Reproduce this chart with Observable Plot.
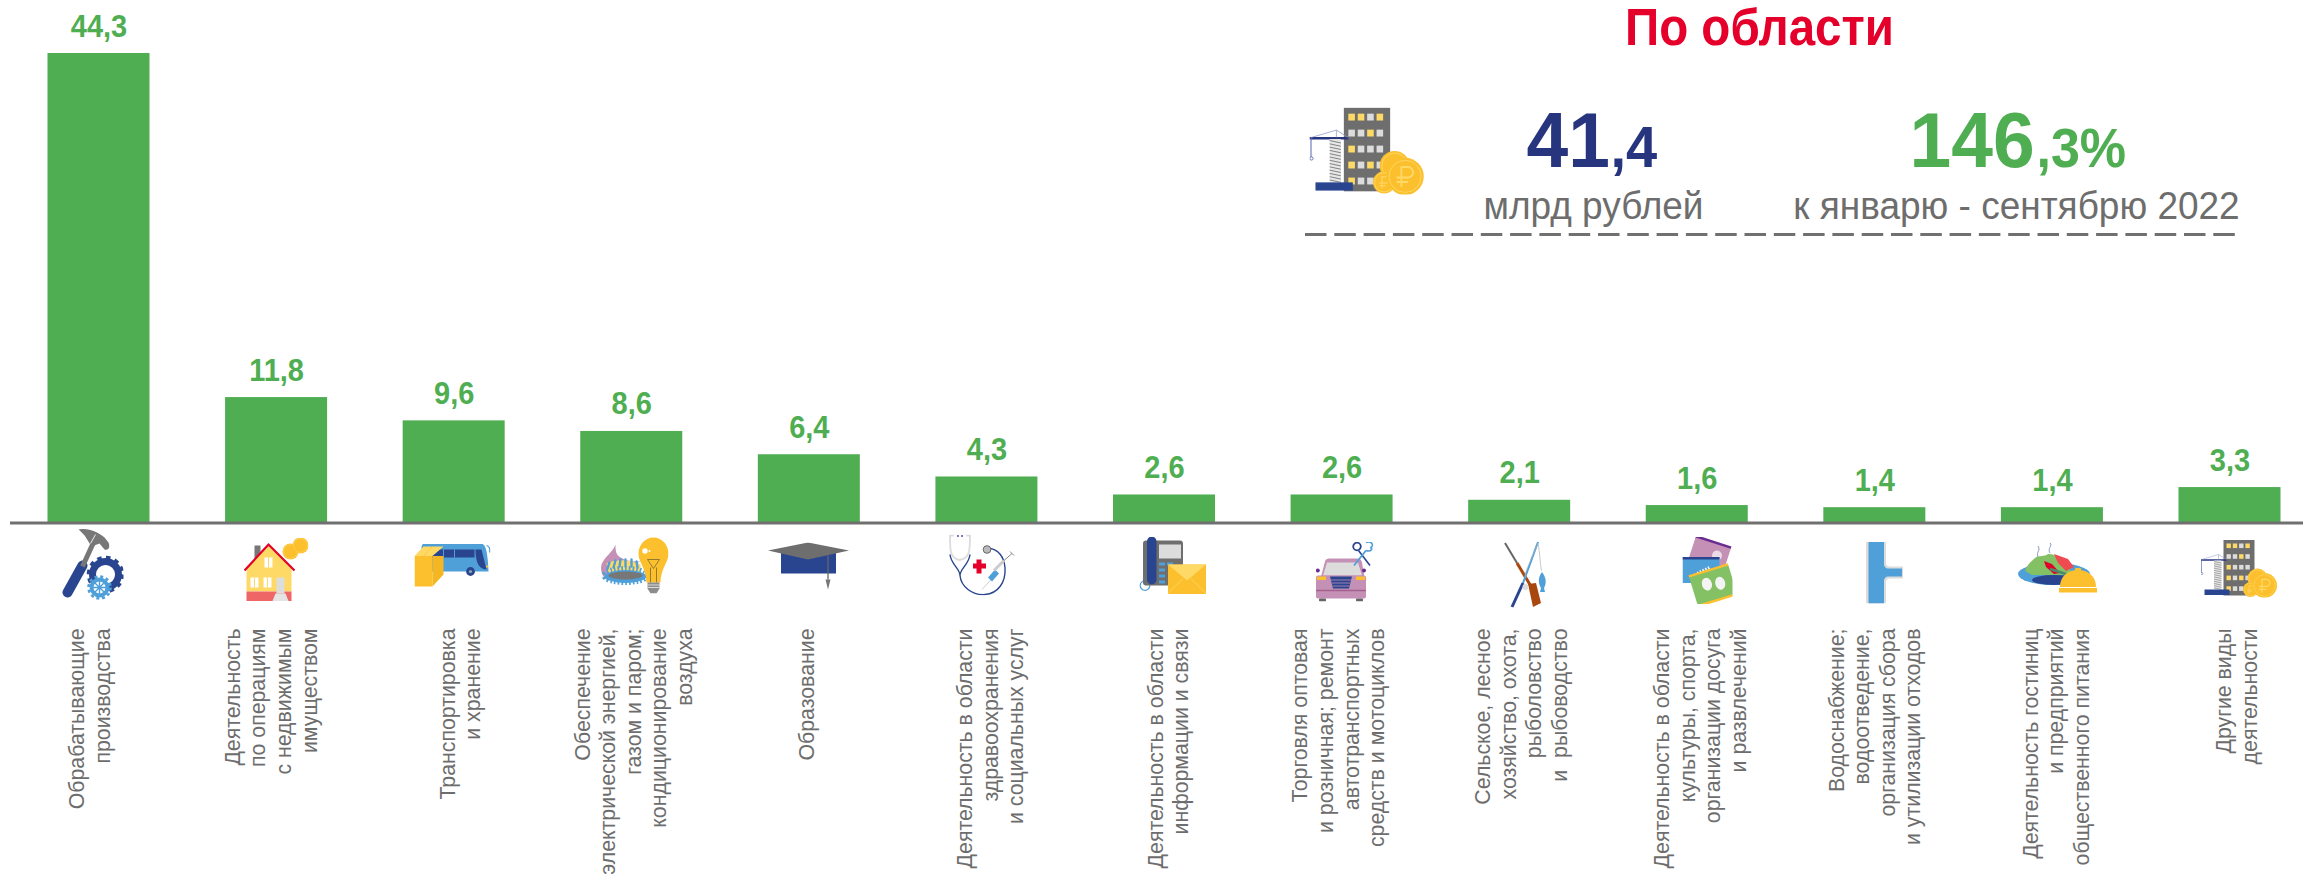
<!DOCTYPE html>
<html lang="ru">
<head>
<meta charset="utf-8">
<title>По области</title>
<style>html,body{margin:0;padding:0;background:#fff;overflow:hidden}svg{display:block}</style>
<script src="https://cdn.jsdelivr.net/npm/d3@7"></script>
<script src="https://cdn.jsdelivr.net/npm/@observablehq/plot@0.6"></script>
</head>
<body>
<div id="chart"></div>
<script>
const categories = [
  "Обрабатывающие\nпроизводства",
  "Деятельность\nпо операциям\nс недвижимым\nимуществом",
  "Транспортировка\nи хранение",
  "Обеспечение\nэлектрической энергией,\nгазом и паром;\nкондиционирование\nвоздуха",
  "Образование",
  "Деятельность в области\nздравоохранения\nи социальных услуг",
  "Деятельность в области\nинформации и связи",
  "Торговля оптовая\nи розничная; ремонт\nавтотранспортных\nсредств и мотоциклов",
  "Сельское, лесное\nхозяйство, охота,\nрыболовство\nи  рыбоводство",
  "Деятельность в области\nкультуры, спорта,\nорганизации досуга\nи развлечений",
  "Водоснабжение;\nводоотведение,\nорганизация сбора\nи утилизации отходов",
  "Деятельность гостиниц\nи предприятий\nобщественного питания",
  "Другие виды\nдеятельности"
];
const values = [44.3, 11.8, 9.6, 8.6, 6.4, 4.3, 2.6, 2.6, 2.1, 1.6, 1.4, 1.4, 3.3];
const valueLabels = ["44,3","11,8","9,6","8,6","6,4","4,3","2,6","2,6","2,1","1,6","1,4","1,4","3,3"];
const title = "По области";
const totalWhole = "41", totalFraction = ",4", totalUnit = "млрд рублей";
const growthWhole = "146", growthFraction = ",3%", growthUnit = "к январю - сентябрю 2022";

// colours
const GREEN = "#4fae52", NAVY = "#27357f", RED = "#e4002b", GREY = "#6d6d6d";
const BLUE = "#4f9fd9", GOLD = "#fcc02e", PALE = "#ffd966", PINK = "#c490b5", LGREY = "#dcdcdc", IN = "#2a4590";

// pictograms, one small drawing per category
const coin = (x, y, r, rub) => `<circle cx="${x}" cy="${y}" r="${r}" fill="${GOLD}"/><circle cx="${x}" cy="${y}" r="${r*0.86}" fill="none" stroke="${PALE}" stroke-width="0.6"/>` +
  (rub ? `<path d="M${x-r*0.2},${y+r*0.55}V${y-r*0.5}h${r*0.35}a${r*0.28},${r*0.28} 0 0 1 0,${r*0.56}h${r*-0.6}M${x-r*0.45},${y+r*0.3}h${r*0.6}" fill="none" stroke="${PALE}" stroke-width="${r*0.1}"/>` : "");
const building = (() => {
  let s = `<rect x="23" y="0" width="31" height="56" fill="#6e6e6e"/>`;
  const pal = ["1101","0010","1000","1010","1000"];
  for (let r = 0; r < 5; r++) for (let c = 0; c < 4; c++) {
    s += `<rect x="${26 + c*6.3}" y="${4 + r*10.7}" width="4.4" height="4.6" fill="${pal[r][c]==="1" ? PALE : LGREY}"/>`;
  }
  s += `<path d="M0,20.5H26" stroke="${NAVY}" stroke-width="1.6"/><path d="M1,20L18,15L26,20M18,15V20" stroke="#8b97c6" stroke-width="0.5" fill="none"/>`;
  s += `<path d="M1,20V33" stroke="#5b6bb0" stroke-width="0.7"/><circle cx="1.3" cy="34" r="1.1" fill="none" stroke="#5b6bb0" stroke-width="0.6"/>`;
  s += `<rect x="13.5" y="21" width="7.5" height="29" fill="#e6e6e6"/>`;
  for (let y = 22; y < 50; y += 2.2) s += `<path d="M13.5,${y}L21,${y+1.6}" stroke="#777" stroke-width="0.6"/>`;
  s += `<rect x="4" y="50" width="25" height="5.5" fill="${IN}"/>`;
  s += coin(57,39,10,false) + coin(50,50,7.5,true) + coin(64,46,12.5,true);
  return s;
})();
const icons = [
  // hammer and gears
  {w:62,h:72,cx:92,cy:564,s:`<path d="M21,37L6,64" stroke="${IN}" stroke-width="10" stroke-linecap="round"/><path d="M21,38L32,14" stroke="#777" stroke-width="5"/>
    <path d="M17,1C25,-1 36,3 43,9L47,14C49,19 47,22 43,21L38,15L30,18L25,10C23,6 20,4 17,1Z" fill="#777"/><path d="M34,6L29,15" stroke="#eee" stroke-width="1"/>
    <circle cx="44" cy="46" r="13" fill="none" stroke="${IN}" stroke-width="7"/><circle cx="44" cy="46" r="17" fill="none" stroke="${IN}" stroke-width="3.5" stroke-dasharray="4.5 4.4"/>
    <circle cx="44" cy="46" r="8.5" fill="none" stroke="#fff" stroke-width="1"/>
    <circle cx="38" cy="59" r="8" fill="#fff"/><circle cx="38" cy="59" r="8" fill="none" stroke="${BLUE}" stroke-width="4"/><circle cx="38" cy="59" r="11" fill="none" stroke="${BLUE}" stroke-width="2.6" stroke-dasharray="3 2.8"/><path d="M32,53L44,65M44,53L32,65M38,50V68M29,59H47" stroke="${BLUE}" stroke-width="1.4"/>`},
  // house
  {w:65,h:64,cx:275.5,cy:569,s:`<rect x="11" y="8" width="6" height="18" fill="#777"/><path d="M25,7L3,31V54H48V31Z" fill="${PALE}"/><rect x="3" y="54" width="45" height="9.5" fill="#ee6666"/>
    <path d="M1,33L25,7L51,33" fill="none" stroke="${RED}" stroke-width="2.2"/>
    <g fill="#fff"><rect x="21" y="20" width="8" height="10"/><rect x="7" y="40" width="8" height="10"/><rect x="20" y="40" width="8" height="10"/></g>
    <path d="M25,20V30M11,40V50M24,40V50" stroke="${PALE}" stroke-width="1"/><rect x="33" y="40" width="8" height="16" fill="#ddd"/><path d="M32,56H42L45,63.5H29Z" fill="#e4e4e4"/>
    ${coin(47,14,8,false)}${coin(57,8,8,false)}`},
  // bus and parcel
  {w:76,h:44,cx:452,cy:565,s:`<path d="M10,0H66C71,0 73,6 74,28H7V4C7,2 8,0 10,0Z" fill="${BLUE}"/><path d="M72,2C75,3 76,5 75,9" fill="none" stroke="${BLUE}" stroke-width="1.2"/>
    <path d="M12,6H60V14H12Z" fill="${IN}"/><path d="M29,6V14M40,6V14" stroke="${BLUE}" stroke-width="1"/><path d="M61,6H67L72,26C65,26 61,20 61,6Z" fill="${IN}"/>
    <circle cx="56" cy="28" r="4.4" fill="${IN}"/><circle cx="56" cy="28" r="1.6" fill="#8aa"/><rect x="71.5" y="22" width="2" height="2" fill="${GOLD}"/>
    <path d="M0,12.5H18V43H0Z" fill="${GOLD}"/><path d="M18,12.5L29,12.5V31L18,43Z" fill="#f4b622"/><path d="M0,12.5L9,3H29L18,12.5Z" fill="${PALE}"/><path d="M9,12.5L18,3" stroke="${GOLD}" stroke-width="0.7"/>`},
  // gas flame and lamp
  {w:68,h:57,cx:634,cy:564.5,s:`<path d="M15,8C13,15 4,20 1,28C-1,36 4,43 8,44L28,30L40,25C34,25 26,25 20,21C15,18 15,13 15,8Z" fill="${PINK}"/><path d="M6,27C15,22 30,23 40,28L40,38H8Z" fill="${PALE}"/>
    <ellipse cx="25" cy="40" rx="21" ry="6.5" fill="${BLUE}"/><ellipse cx="25" cy="39" rx="21" ry="6.5" fill="none" stroke="${BLUE}" stroke-width="6" stroke-dasharray="1.6 2"/>
    <path d="M7,32L9,26M13,31L15,24M19,30L20,23M25,30L25,23M31,30L31,23M37,31L36,25" stroke="${BLUE}" stroke-width="2.4" stroke-linecap="round"/>
    <ellipse cx="25" cy="39" rx="17" ry="4" fill="#777"/>
    <path d="M53,1C44,1 38,9 38,17C38,26 45,30 46,46H60C61,30 68,26 68,17C68,9 62,1 53,1Z" fill="${GOLD}"/><circle cx="44.5" cy="14.5" r="2.7" fill="#fff"/><circle cx="49" cy="14.5" r="1" fill="#fff"/>
    <path d="M47,23H59L53,32ZM50,31V46M56,31V46" fill="none" stroke="#7a6a30" stroke-width="0.8"/><path d="M47,46H59V52L56,57H50L47,52Z" fill="#8c8c8c"/><path d="M47,48.5H59M47,51H59" stroke="#fff" stroke-width="0.7"/>`},
  // graduation cap
  {w:81,h:47,cx:808,cy:565.5,s:`<rect x="13" y="10" width="55" height="21" fill="${IN}"/><path d="M0,8L40,0L81,8L40,17Z" fill="#6e6e6e"/><path d="M60,13V37" stroke="#666" stroke-width="1.3"/><path d="M57.5,37H62.5L60,47Z" fill="#777"/>`},
  // stethoscope
  {w:67,h:61,cx:981,cy:564.5,s:`<path d="M11.5,25.5C2,24 2,16 2,1H6M11.5,25.5C22,24 22,16 22,1H18" fill="none" stroke="${LGREY}" stroke-width="1.8"/><circle cx="10" cy="1.5" r="0.9" fill="${IN}"/><circle cx="14" cy="1.5" r="0.9" fill="${IN}"/>
    <path d="M2,20C3,30 12,34 12,41C12,34 21,30 22,20M12,41C13,52 24,61 37,60C50,59 58,48 57,33C56,22 50,15 42,14" fill="none" stroke="${IN}" stroke-width="1.4"/>
    <circle cx="39" cy="15" r="3.8" fill="#bbb" stroke="#666" stroke-width="1"/><path d="M28.5,25H33.5V29H38V34H33.5V39H28.5V34H25V29H28.5Z" fill="${RED}"/>
    <path d="M34,55L44,44" stroke="#d0d0d0" stroke-width="1"/><path d="M40,43L47,35L51,39L44,47Z" fill="${BLUE}"/><path d="M46,36L56,26" stroke="#ccc" stroke-width="3"/><path d="M56,26L64,19M62,17L66,21" stroke="#888" stroke-width="1"/>`},
  // telephone and envelope
  {w:67,h:58,cx:1172,cy:565,s:`<circle cx="6" cy="49" r="4.8" fill="none" stroke="${BLUE}" stroke-width="1.2"/><rect x="4" y="4" width="40" height="45" rx="3" fill="#6e6e6e"/><rect x="8" y="0" width="9.5" height="48" rx="4.7" fill="${IN}"/><rect x="20" y="8" width="22" height="14" fill="${LGREY}"/>
    <g fill="${BLUE}"><rect x="20" y="26" width="6" height="3"/><rect x="28" y="26" width="6" height="3"/><rect x="20" y="32" width="6" height="3"/><rect x="20" y="38" width="6" height="3"/><rect x="20" y="44" width="6" height="3"/></g>
    <rect x="29" y="28" width="38" height="29.5" fill="${GOLD}"/><path d="M29,28H67L48,44Z" fill="${PALE}"/><path d="M29,57L44,42M67,57L52,42" stroke="${PALE}" stroke-width="0.8"/>`},
  // car and scissors
  {w:58,h:60,cx:1344.5,cy:571,s:`<path d="M4,39L9,20C10,17 12,17 14,17H41C44,17 45,18 46,21L49,39Z" fill="${PINK}"/><path d="M7,34L11,21H42L46,34Z" fill="${LGREY}"/><circle cx="1.8" cy="29" r="2" fill="#6a2c91"/><circle cx="48" cy="29" r="2" fill="#6a2c91"/>
    <rect x="0" y="34" width="50" height="23" rx="2" fill="${PINK}"/><rect x="1" y="35" width="9" height="3.5" fill="${GOLD}"/><rect x="40" y="35" width="9" height="3.5" fill="${GOLD}"/><path d="M14,35H36L33,47H17Z" fill="${IN}"/><path d="M15,38.5H35M16,41.5H34M16.5,44.5H33.5" stroke="${PINK}" stroke-width="0.8"/>
    <path d="M0,49H50" stroke="#a4608f" stroke-width="1.3"/><rect x="3" y="57" width="7" height="3" rx="1" fill="#666"/><rect x="40" y="57" width="7" height="3" rx="1" fill="#666"/>
    <circle cx="41" cy="5" r="3.8" fill="none" stroke="${IN}" stroke-width="1.8"/><path d="M42.5,9L54,24" stroke="${IN}" stroke-width="1.6"/><path d="M50,9L38,24" stroke="${BLUE}" stroke-width="1.8"/><path d="M50,1C56,-1 58,4 55,6M50,9C56,11 57,6 54,6" fill="none" stroke="${BLUE}" stroke-width="1.6"/>`},
  // gun and fishing rod
  {w:43,h:67,cx:1525,cy:574,s:`<path d="M1,2L13,22" stroke="#666" stroke-width="2"/><path d="M13,22L28,47" stroke="#a8480f" stroke-width="3"/><path d="M24,43L32,42L37,62L29,66Z" fill="#a8480f"/>
    <path d="M34,1L19,42" stroke="${BLUE}" stroke-width="2"/><path d="M19,42L8,66" stroke="${IN}" stroke-width="3"/><path d="M34,2C36,12 36,22 37.5,30" stroke="#bbb" stroke-width="0.8" fill="none"/><path d="M34,2L22,30C20,36 22,36 25,37" stroke="#bbb" stroke-width="0.6" fill="none"/>
    <path d="M38,31C42,36 43,42 40,47L41,51H36L37,47C34,42 34,36 38,31Z" fill="${BLUE}"/><circle cx="21.5" cy="46" r="3" fill="#ddd"/>`},
  // tickets
  {w:50,h:67,cx:1707,cy:570,s:`<g transform="rotate(18 26 22)"><rect x="7" y="4" width="37" height="30" fill="${PINK}"/><rect x="7" y="3" width="37" height="2.5" fill="#6a2c91"/><circle cx="33" cy="16" r="5" fill="#eadbe6"/></g>
    <rect x="0" y="20" width="37" height="26" fill="${BLUE}"/><rect x="0" y="20" width="37" height="2.5" fill="${IN}"/><path d="M15,37L27,31" stroke="#fff" stroke-width="4" stroke-dasharray="1.5 1.5"/><rect x="14" y="37" width="14" height="3" fill="${IN}"/>
    <g transform="rotate(-17 32 48)"><rect x="10" y="33" width="41" height="30" fill="#84c064"/><rect x="10" y="31" width="41" height="2.5" fill="${GOLD}"/><rect x="10" y="62" width="41" height="2.5" fill="${GOLD}"/><ellipse cx="25" cy="45" rx="5" ry="6.5" fill="#f4f4f4"/><ellipse cx="38" cy="48" rx="5" ry="6.5" fill="#f4f4f4"/></g>`},
  // water pipe
  {w:37,h:62,cx:1884,cy:572,s:`<path d="M0,0H20V22C20,24 22,25 24,25H37V37H24C22,37 20,38 20,40V62H0Z" fill="${LGREY}"/><path d="M2.5,0H18V23C18,25 20,27 22,27H36V35H22C20,35 18,37 18,39V62H2.5Z" fill="${BLUE}"/>`},
  // plate and cloche
  {w:79,h:50,cx:2057,cy:567.5,s:`<ellipse cx="36" cy="31" rx="36" ry="11" fill="${BLUE}"/><ellipse cx="36" cy="37" rx="22" ry="5" fill="${IN}"/><path d="M7,28C10,20 14,18 17,15C21,12 26,14 30,11C36,10 44,16 50,20L54,32H14Z" fill="#84c064"/>
    <path d="M36,11L50,16L56,24L48,28L40,20Z" fill="#ee4a4f"/><path d="M26,18L34,21L42,30L36,31L28,24Z" fill="${RED}"/><path d="M32,26L48,31" stroke="#4a8a6a" stroke-width="2.4"/>
    <path d="M20,14C18,8 23,8 20,3M32,10C29,5 35,3 32,0" fill="none" stroke="#8b97c6" stroke-width="1"/>
    <path d="M42,44C42,33 50,27 60,27C70,27 78,33 78,44Z" fill="${GOLD}"/><rect x="57" y="25" width="6" height="3" rx="1" fill="${GOLD}"/><rect x="41" y="45" width="38" height="4.5" fill="${GOLD}"/>`},
  // building, crane, coins
  {w:77,h:58,cx:2238.5,cy:568,s:building}
];
const iconSrc = s => "data:image/svg+xml," + encodeURIComponent(s);
const svgOf = ic => `<svg xmlns="http://www.w3.org/2000/svg" viewBox="0 0 ${ic.w} ${ic.h}" width="${ic.w}" height="${ic.h}">${ic.s}</svg>`;

// frame layout
const W = 2303, H = 874, LEFT = 10;
const BASE = 522, TOP = 53;
const BAR_X0 = 47.5, BAR_X1 = 2280.5, BAR_W = 102, STEP = (BAR_X1 - BAR_X0 - BAR_W) / 12;
const center = i => BAR_X0 + BAR_W / 2 + i * STEP;
const labelShift = [-10, -6.5, 5, 1, -4, 2.5, 3, -4.5, 0.5, 2, -1, 2.5, 5.7];

const data = categories.map((c, i) => ({cat: c, v: values[i], lab: valueLabels[i]}));

// the reference's type is a little taller than the installed face: stretch glyphs about their baseline
const tall = (options, sy) => ({...options, render(i, s, v, d, c, next) {
  const g = next(i, s, v, d, c);
  g.querySelectorAll("text").forEach(t => t.setAttribute("transform", `${t.getAttribute("transform") || ""} scale(1,${sy})`));
  return g;
}});

// free-standing text, placed within the frame
const note = (text, x, baseline, size, fill, weight, anchor, sy) => Plot.text([text], tall({
  text: d => d, frameAnchor: "top-left", lineAnchor: "bottom",
  dx: x - LEFT, dy: baseline, fontSize: size, fill, fontWeight: weight, textAnchor: anchor
}, sy));

const chart = Plot.plot({
  width: W, height: H,
  marginLeft: LEFT, marginRight: 0, marginTop: 0, marginBottom: 0,
  style: {fontFamily: "'Liberation Sans', Arial, sans-serif", background: "#fff"},
  x: {type: "band", domain: categories, range: [BAR_X0, BAR_X1], round: false, paddingInner: 1 - BAR_W / STEP, paddingOuter: 0, axis: null},
  y: {type: "linear", domain: [0, 44.3], range: [BASE, TOP], axis: null},
  marks: [
    Plot.barY(data, {x: "cat", y: "v", fill: GREEN}),
    Plot.ruleY([0], {stroke: "#707070", strokeWidth: 3, dy: 0.5}),
    Plot.text(data, tall({x: "cat", y: "v", text: "lab", fill: GREEN, fontSize: 29, fontWeight: 700, lineAnchor: "bottom", dy: -17}, 1.08)),
    ...categories.map((c, i) => Plot.text([c], {
      x: d => d, y: () => 0, text: d => d, rotate: -90, textAnchor: "end", lineAnchor: "middle",
      fontSize: 21.3, lineHeight: 1.2, fill: GREY, dy: 106, dx: labelShift[i]
    })),
    ...icons.map((ic, i) => Plot.image([categories[i]], {
      x: d => d, y: () => 0, src: () => iconSrc(svgOf(ic)), width: ic.w, height: ic.h,
      dx: ic.cx - center(i), dy: ic.cy - BASE
    })),
    Plot.image(["total"], {
      frameAnchor: "top-left", src: () => iconSrc(svgOf({w: 77, h: 58, s: building})),
      width: 115, height: 87, dx: 1366.5 - LEFT, dy: 150.5
    }),
    note(title, 1759, 44, 47.5, RED, 700, "middle", 1.08),
    note(totalWhole, 1526, 166, 75, NAVY, 700, "start", 1.03),
    note(totalFraction, 1610, 166, 56, NAVY, 700, "start", 1.02),
    note(growthWhole, 1909, 166, 75, GREEN, 700, "start", 1.03),
    note(growthFraction, 2036, 166, 52, GREEN, 700, "start", 1.06),
    note(totalUnit, 1593, 218, 37, GREY, 400, "middle", 1.06),
    note(growthUnit, 2016, 218, 37, GREY, 400, "middle", 1.06),
    Plot.ruleY([0], {dy: 234 - BASE, insetLeft: 1305 - LEFT, insetRight: W - 2236, stroke: "#707070", strokeWidth: 3, strokeDasharray: "21.5 7.8"})
  ]
});
document.getElementById("chart").append(chart);
</script>
</body>
</html>
